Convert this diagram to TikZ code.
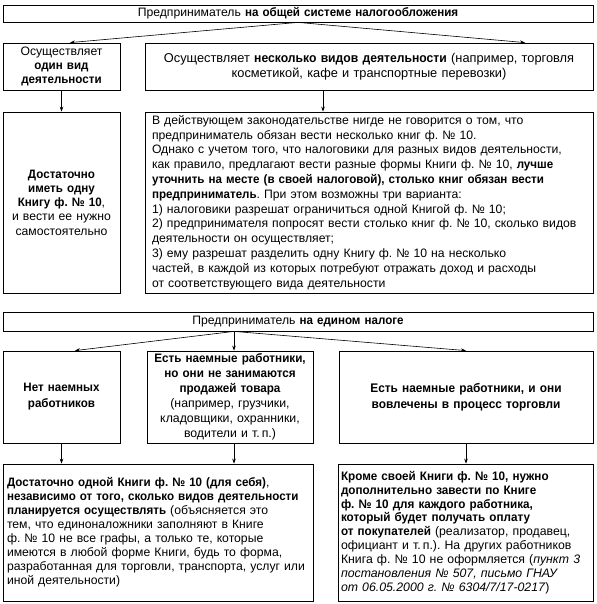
\documentclass[tikz,border=0pt]{standalone}
\usepackage{fontspec}
\setmainfont{Liberation Sans}[BoldFeatures={FakeStretch=0.95}]
\usetikzlibrary{arrows.meta,calc}
\newcommand\myfs[2]{\fontsize{#1}{#2}\selectfont\frenchspacing}
\begin{document}
\begin{tikzpicture}[x=1pt,y=-1pt,
  box/.style={draw, line width=0.8pt, inner ysep=0pt, font=\myfs{12.2}{14.5}},
  cbox/.style={box, align=center},
  lbox/.style={box, align=left},
  arr/.style={-{Stealth[length=5pt,width=3.6pt]}, line width=0.6pt}]
\useasboundingbox (0,0) rectangle (596,604);

% ---------- section 1 ----------
\node[cbox, inner xsep=3pt, text width=584pt, minimum height=17pt] (top1) at (298,13.5)
  {Предприниматель \textbf{на общей системе налогообложения}};
\node[cbox, inner xsep=2pt, text width=113pt, minimum height=47pt, font=\myfs{12.2}{14}] (L1) at (61.5,66.5)
  {Осуществляет\\ \textbf{один вид}\\ \textbf{деятельности}};
\node[cbox, inner xsep=3pt, text width=442pt, minimum height=47pt, font=\myfs{12.8}{15.5}] (R1) at (369,66.5)
  {Осуществляет \textbf{несколько видов деятельности} (например, торговля\\ косметикой, кафе и транспортные перевозки)};
\node[cbox, inner xsep=2pt, text width=113pt, minimum height=181pt, font=\myfs{12.2}{14.3}] (L2) at (61.5,202.5)
  {\textbf{Достаточно}\\ \textbf{иметь одну}\\ \textbf{Книгу ф. № 10},\\ и вести ее нужно\\ самостоятельно};
\node[lbox, inner xsep=7pt, text width=434pt, minimum height=181pt, font=\myfs{12.2}{14.8}] (R2) at (369,202.5)
  {В действующем законодательстве нигде не говорится о том, что\\
   предприниматель обязан вести несколько книг ф. № 10.\\
   Однако с учетом того, что налоговики для разных видов деятельности,\\
   как правило, предлагают вести разные формы Книги ф. № 10, \textbf{лучше}\\
   \textbf{уточнить на месте (в своей налоговой), столько книг обязан вести}\\
   \textbf{предприниматель}. При этом возможны три варианта:\\
   1) налоговики разрешат ограничиться одной Книгой ф. № 10;\\
   2) предпринимателя попросят вести столько книг ф. № 10, сколько видов\\
   деятельности он осуществляет;\\
   3) ему разрешат разделить одну Книгу ф. № 10 на несколько\\
   частей, в каждой из которых потребуют отражать доход и расходы\\
   от соответствующего вида деятельности};

\draw[arr] (top1.south) -- ([xshift=8.5]L1.north);
\draw[arr] (top1.south) -- ([xshift=156]R1.north);
\draw[arr] (L1.south) -- (L2.north);
\draw[arr] ([xshift=-46]R1.south) -- ([xshift=-46]R2.north);

% ---------- section 2 ----------
\node[cbox, inner xsep=3pt, text width=584pt, minimum height=19pt] (top2) at (298,321.5)
  {Предприниматель \textbf{на едином налоге}};
\node[cbox, inner xsep=2pt, text width=113pt, minimum height=92pt, font=\myfs{12.2}{16}] (A) at (61.5,397)
  {\textbf{Нет наемных}\\ \textbf{работников}};
\node[cbox, inner xsep=1pt, text width=164pt, minimum height=92pt, font=\myfs{12.3}{15}] (B) at (230,397)
  {\textbf{Есть наемные работники,}\\ \textbf{но они не занимаются}\\ \textbf{продажей товара}\\ (например, грузчики,\\ кладовщики, охранники,\\ водители и т.\,п.)};
\node[cbox, inner xsep=3pt, text width=248pt, minimum height=92pt, font=\myfs{12.5}{15.5}] (C) at (466,397)
  {\textbf{Есть наемные работники, и они}\\ \textbf{вовлечены в процесс торговли}};
\node[lbox, inner xsep=4pt, text width=302pt, minimum height=137pt, font=\myfs{12.2}{14}] (D) at (158,532.5)
  {\textbf{Достаточно одной Книги ф. № 10 (для себя)},\\
   \textbf{независимо от того, сколько видов деятельности}\\
   \textbf{планируется осуществлять} (объясняется это\\
   тем, что единоналожники заполняют в Книге\\
   ф. № 10 не все графы, а только те, которые\\
   имеются в любой форме Книги, будь то форма,\\
   разработанная для торговли, транспорта, услуг или\\
   иной деятельности)};
\node[lbox, inner xsep=3pt, text width=249pt, minimum height=137pt, font=\myfs{12.3}{13.9}] (E) at (465.5,532.5)
  {\textbf{Кроме своей Книги ф. № 10, нужно}\\
   \textbf{дополнительно завести по Книге}\\
   \textbf{ф. № 10 для каждого работника,}\\
   \textbf{который будет получать оплату}\\
   \textbf{от покупателей} (реализатор, продавец,\\
   официант и т.\,п.). На других работников\\
   Книга ф. № 10 не оформляется (\textit{пункт 3}\\
   \textit{постановления № 507, письмо ГНАУ}\\
   \textit{от 06.05.2000 г. № 6304/7/17-0217})};

\draw[arr] ([xshift=-64]top2.south) -- ([xshift=13.5]A.north);
\draw[arr] ([xshift=-64]top2.south) -- ([xshift=4]B.north);
\draw[arr] ([xshift=-64]top2.south) -- (C.north);
\draw[arr] (A.south) -- (A.south |- D.north);
\draw[arr] ([xshift=4]B.south) -- ([xshift=4]B.south |- D.north);
\draw[arr] (C.south) -- (C.south |- E.north);
\end{tikzpicture}
\end{document}
